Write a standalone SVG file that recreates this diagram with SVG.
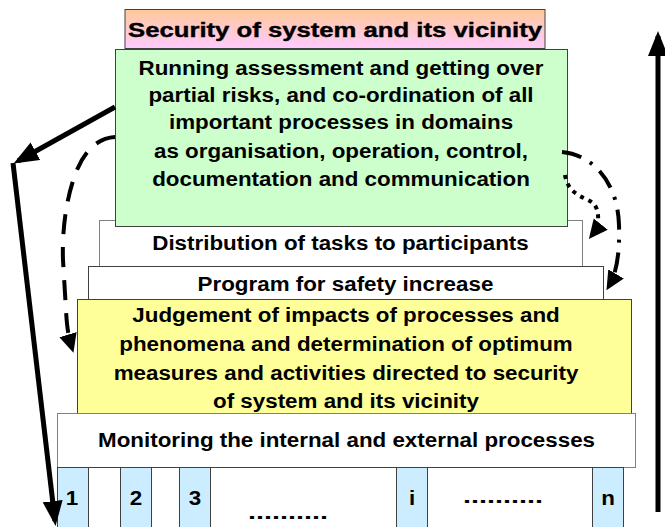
<svg xmlns="http://www.w3.org/2000/svg" width="665" height="527" viewBox="0 0 665 527">
<defs>
<linearGradient id="gTop" x1="0" y1="0" x2="0" y2="1">
<stop offset="0" stop-color="#FFC899"/>
<stop offset="1" stop-color="#FFCCFF"/>
</linearGradient>
<marker id="hBig" markerUnits="userSpaceOnUse" markerWidth="28" markerHeight="22" refX="20" refY="10" orient="auto">
<path d="M0,0 L25,10 L0,20 z" fill="#000"/>
</marker>
<marker id="hMid" markerUnits="userSpaceOnUse" markerWidth="24" markerHeight="20" refX="14" refY="9" orient="auto">
<path d="M0,0 L19,9 L0,18 z" fill="#000"/>
</marker>
</defs>
<style>
.b{stroke:#404040;stroke-width:1}
.g{stroke:#808080;stroke-width:1}
.t{font-family:"Liberation Sans",Arial,sans-serif;font-weight:bold;font-size:21px;fill:#000;text-anchor:middle}
.ln{fill:none;stroke:#000;stroke-width:5}
.dl{fill:none;stroke:#000;stroke-width:4}
</style>

<g id="top">
<rect x="125" y="9.5" width="420" height="39" fill="url(#gTop)" class="b"/>
<text class="t" x="335" y="37" textLength="414" lengthAdjust="spacingAndGlyphs" style="stroke:#000;stroke-width:0.4">Security of system and its vicinity</text>
</g>

<g id="distribution">
<rect x="99.5" y="220.5" width="483" height="46" fill="#fff" class="g"/>
<text class="t" transform="scale(1.065,1)" x="319.7" y="250">Distribution of tasks to participants</text>
</g>

<g id="coordination">
<rect x="115.5" y="49.5" width="452" height="177" fill="#CCFFCC" class="b"/>
<text class="t" transform="scale(1.065,1)" x="320.2" y="75">Running assessment and getting over</text>
<text class="t" transform="scale(1.065,1)" x="320.2" y="102">partial risks, and co-ordination of all</text>
<text class="t" transform="scale(1.065,1)" x="320.2" y="129">important processes in domains</text>
<text class="t" transform="scale(1.065,1)" x="320.2" y="158">as organisation, operation, control,</text>
<text class="t" transform="scale(1.065,1)" x="320.2" y="186">documentation and communication</text>
</g>

<g id="program">
<rect x="88.5" y="266.5" width="515" height="34" fill="#fff" class="b"/>
<text class="t" transform="scale(1.065,1)" x="324.4" y="291">Program for safety increase</text>
</g>

<g id="judgement">
<rect x="77.5" y="299.5" width="554" height="114" fill="#FFFF99" class="b"/>
<text class="t" transform="scale(1.065,1)" x="324.9" y="322">Judgement of impacts of processes and</text>
<text class="t" transform="scale(1.065,1)" x="324.9" y="351">phenomena and determination of optimum</text>
<text class="t" transform="scale(1.065,1)" x="324.9" y="380">measures and activities directed to security</text>
<text class="t" transform="scale(1.065,1)" x="324.9" y="408">of system and its vicinity</text>
</g>

<g id="monitoring">
<rect x="57.5" y="413.5" width="578" height="54" fill="#fff" class="g"/>
<text class="t" transform="scale(1.065,1)" x="325.4" y="447">Monitoring the internal and external processes</text>
</g>

<g id="cells">
<rect x="57.5" y="467.5" width="566" height="60" fill="#fff" class="b"/>
<rect x="57.5" y="467.5" width="31" height="60" fill="#CCECFF" class="b"/>
<rect x="120.5" y="467.5" width="31" height="60" fill="#CCECFF" class="b"/>
<rect x="179.5" y="467.5" width="31" height="60" fill="#CCECFF" class="b"/>
<rect x="396.5" y="467.5" width="31" height="60" fill="#CCECFF" class="b"/>
<rect x="592.5" y="467.5" width="31" height="60" fill="#CCECFF" class="b"/>
<text class="t" transform="scale(1.065,1)" x="67.6" y="505">1</text>
<text class="t" transform="scale(1.065,1)" x="127.7" y="505">2</text>
<text class="t" transform="scale(1.065,1)" x="183.1" y="505">3</text>
<text class="t" transform="scale(1.065,1)" x="386.9" y="505">i</text>
<text class="t" transform="scale(1.065,1)" x="570.9" y="505">n</text>
<text class="t" x="288" y="519" textLength="80" lengthAdjust="spacingAndGlyphs">..........</text>
<text class="t" x="503" y="503" textLength="80" lengthAdjust="spacingAndGlyphs">..........</text>
</g>

<g id="connectors">
<line class="ln" x1="658" y1="512" x2="658" y2="36" marker-end="url(#hBig)"/>
<line class="ln" x1="115" y1="107" x2="18" y2="161" marker-end="url(#hBig)"/>
<line class="ln" x1="13" y1="163" x2="55" y2="521" marker-end="url(#hBig)"/>
<path class="dl" d="M115,137 C95,138 82,155 75,175 C66,200 62,230 63,260 L66,310 C67,330 69,338 72,348" stroke-dasharray="20,13" marker-end="url(#hMid)"/>
<path class="dl" d="M562,152 C595,155 618,185 619,225 C620,255 616,274 609,286" stroke-dasharray="20,10,3,10" marker-end="url(#hMid)"/>
<path class="dl" d="M565,175 C568,195 585,197 593,203 C600,210 600,225 592,235" stroke-dasharray="4,5" marker-end="url(#hMid)"/>
</g>
</svg>
